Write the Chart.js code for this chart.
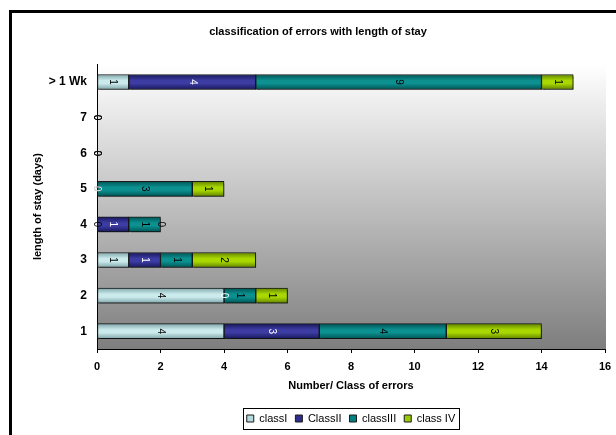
<!DOCTYPE html>
<html>
<head>
<meta charset="utf-8">
<script src="https://cdn.jsdelivr.net/npm/chart.js@4/dist/chart.umd.min.js"></script>
<style>
  html, body { margin: 0; padding: 0; background: #fff; overflow: hidden; }
  #wrap { position: relative; width: 616px; height: 435px; }
  #frame { position: absolute; left: 9px; top: 10px; width: 700px; height: 500px;
           border-left: 3px solid #000; border-top: 3px solid #000; }
  #c { position: absolute; left: 0; top: 0; }
</style>
</head>
<body>
<div id="wrap">
  <div id="frame"></div>
  <canvas id="c" width="616" height="435"></canvas>
</div>
<script>
// Length of stay categories, listed top to bottom
const stayLabels = ['> 1 Wk', '7', '6', '5', '4', '3', '2', '1'];

// Number of errors per class for each length of stay
const classI   = [1, 0, 0, 0, 0, 1, 4, 4];
const classII  = [4, 0, 0, 0, 1, 1, 0, 3];
const classIII = [9, 0, 0, 3, 1, 1, 1, 4];
const classIV  = [1, 0, 0, 1, 0, 2, 1, 3];

const seriesNames = ['classI', 'ClassII', 'classIII', 'class IV'];
const xTicks = [0, 2, 4, 6, 8, 10, 12, 14, 16];

// fill shades: [edge, middle]
const shades = [
  ['#7fa6aa', '#cbeaec'],
  ['#18185e', '#3c3ca2'],
  ['#005454', '#0c9090'],
  ['#628400', '#a8d800']
];
const solid = ['#b4dadd', '#2e2e8a', '#008080', '#99cc00'];
const labelColors = ['#000', '#fff', '#000', '#000'];
const BAR = 15;

function barFill(i) {
  return function (ctx) {
    const chart = ctx.chart;
    const ys = chart.scales && chart.scales.y;
    if (ctx.type !== 'data' || !ys || ys.top === undefined) return solid[i];
    const py = ys.getPixelForValue(ctx.dataIndex);
    const g = chart.ctx.createLinearGradient(0, py - BAR / 2, 0, py + BAR / 2);
    g.addColorStop(0, shades[i][0]);
    g.addColorStop(0.4, shades[i][1]);
    g.addColorStop(0.6, shades[i][1]);
    g.addColorStop(1, shades[i][0]);
    return g;
  };
}

const seriesData = [classI, classII, classIII, classIV];
const datasets = seriesData.map((d, i) => ({
  label: seriesNames[i],
  data: d,
  backgroundColor: barFill(i),
  borderColor: '#1a1a1a',
  borderWidth: 1,
  borderSkipped: false,
  barThickness: BAR
}));

// gradient plot area, bar shadow, value labels, legend placement and frame
const decor = {
  id: 'decor',
  afterLayout(chart) {
    // centre the legend under the plot area
    const lg = chart.legend;
    const a = chart.chartArea;
    if (!lg) return;
    const shift = (a.left + a.right) / 2 - (lg.left + lg.right) / 2;
    lg.left += shift;
    lg.right += shift;
  },
  beforeDraw(chart) {
    const a = chart.chartArea, c = chart.ctx;
    const g = c.createLinearGradient(0, a.top, 0, a.bottom);
    g.addColorStop(0, '#ffffff');
    g.addColorStop(1, '#7e7e7e');
    c.save();
    c.fillStyle = g;
    c.fillRect(a.left, a.top, a.right - a.left + 1, a.bottom - a.top);
    c.restore();
  },
  beforeDatasetsDraw(chart) {
    const c = chart.ctx;
    c.save();
    c.shadowColor = 'rgba(0,0,0,0.35)';
    c.shadowOffsetX = 2;
    c.shadowOffsetY = 2;
    c.shadowBlur = 1;
  },
  afterDatasetsDraw(chart) {
    const c = chart.ctx;
    c.restore();
    c.save();
    c.font = '10px "Liberation Sans", Arial, sans-serif';
    c.textAlign = 'center';
    c.textBaseline = 'middle';
    chart.data.datasets.forEach((ds, i) => {
      const meta = chart.getDatasetMeta(i);
      meta.data.forEach((el, j) => {
        const cx = (el.x + el.base) / 2;
        c.save();
        c.translate(cx, el.y);
        c.rotate(Math.PI / 2);
        c.fillStyle = labelColors[i];
        c.fillText(String(ds.data[j]), 0, 0);
        c.restore();
      });
    });
    c.restore();
  },
  afterDraw(chart) {
    const hb = chart.legend && chart.legend.legendHitBoxes;
    if (!hb || !hb.length) return;
    const c = chart.ctx;
    const l = Math.min(...hb.map(h => h.left)) - 4;
    const r = Math.max(...hb.map(h => h.left + h.width)) + 4;
    const t = Math.min(...hb.map(h => h.top)) - 5;
    const b = Math.max(...hb.map(h => h.top + h.height)) + 5;
    c.save();
    c.strokeStyle = '#000';
    c.lineWidth = 1;
    c.strokeRect(Math.round(l) + 0.5, Math.round(t) + 0.5, Math.round(r - l), Math.round(b - t));
    c.restore();
  }
};

const boldFont = { family: '"Liberation Sans", Arial, sans-serif', size: 11, weight: 'bold' };

new Chart(document.getElementById('c'), {
  type: 'bar',
  data: { labels: stayLabels, datasets: datasets },
  options: {
    indexAxis: 'y',
    responsive: false,
    animation: false,
    layout: { padding: { left: 31, right: 11, top: 0, bottom: 1 } },
    scales: {
      x: {
        stacked: true,
        min: 0, max: 16,
        afterBuildTicks(s) { s.ticks = xTicks.map(v => ({ value: v })); },
        afterFit(s) { s.height = 56; s.paddingRight = 0; s.paddingLeft = 0; },
        ticks: { color: '#000', font: boldFont, padding: 7 },
        grid: { drawOnChartArea: false, drawTicks: true, tickLength: 4, color: '#000' },
        border: { display: true, color: '#000', width: 1 },
        title: { display: true, text: 'Number/ Class of errors', color: '#000', font: boldFont,
                 padding: { top: 0, bottom: 12 } }
      },
      y: {
        stacked: true,
        afterFit(s) { s.width = 66; },
        ticks: { color: '#000', font: { family: '"Liberation Sans", Arial, sans-serif', size: 12, weight: 'bold' }, padding: 2 },
        grid: { display: false },
        border: { display: true, color: '#000', width: 1 },
        title: { display: true, text: 'length of stay (days)', color: '#000', font: boldFont,
                 padding: { top: 0, bottom: 0 } }
      }
    },
    plugins: {
      title: {
        display: true,
        text: 'classification of errors with length of stay',
        color: '#000',
        font: boldFont,
        padding: { top: 25, bottom: 26 }
      },
      legend: {
        position: 'bottom',
        labels: {
          color: '#000',
          font: { family: '"Liberation Sans", Arial, sans-serif', size: 11 },
          boxWidth: 7, boxHeight: 7, padding: 8,
          generateLabels(chart) {
            const items = Chart.defaults.plugins.legend.labels.generateLabels(chart);
            items.forEach((it, i) => { it.fillStyle = solid[i]; it.strokeStyle = '#1a1a1a'; it.lineWidth = 1; });
            return items;
          }
        }
      },
      tooltip: { enabled: false }
    }
  },
  plugins: [decor]
});
</script>
</body>
</html>
